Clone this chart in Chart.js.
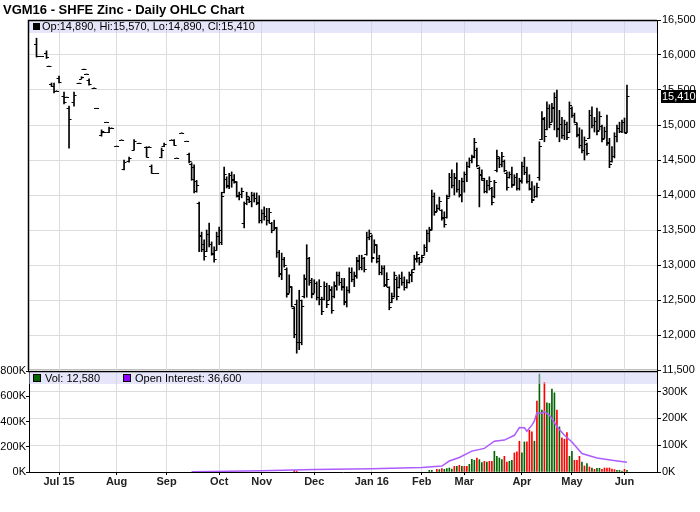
<!DOCTYPE html>
<html>
<head>
<meta charset="utf-8">
<title>VGM16 - SHFE Zinc - Daily OHLC Chart</title>
<script src="https://cdn.jsdelivr.net/npm/chart.js@4.4.0/dist/chart.umd.min.js"></script>
<style>
    html, body { margin: 0; padding: 0; background: #fff; }
    #wrap { position: relative; width: 700px; height: 512px; }
    #wrap canvas { position: absolute; left: 0; top: 0; }
</style>
</head>
<body>
<div id="wrap">
    <canvas id="volChart" width="700" height="512"></canvas>
    <canvas id="priceChart" width="700" height="512"></canvas>
</div>
<script>
// month gridlines (bar index of first trading day) and their labels
const monthStarts = [9, 32, 52, 73, 90, 111, 134, 154, 171, 194, 214, 235];
const monthLabels = ['Jul 15', 'Aug', 'Sep', 'Oct', 'Nov', 'Dec', 'Jan 16', 'Feb', 'Mar', 'Apr', 'May', 'Jun'];

// daily OHLC, one entry per trading day (null = no trade)
const highs = [
    16240, null, 15980, null, 16060, 15840, 15600, 15600, 15490, 15700,
    null, 15470, 15400, 15270, null, 15470, null, 15600, 15690, 15800,
    15730, 15660, null, 15530, 15240, null, 14930, 14900, 15040, 14970,
    14960, null, 14700, null, 14790, 14500, null, 14540, null, 14790,
    null, 14740, null, null, 14690, 14690, 14430, null, 14310, null,
    14670, 14740, null, null, 14790, 14790, 14530, null, 14890, null,
    14770, 14600, 14460, 14430, 14210, 13900, 13470, 13360, 13500, 13600,
    13330, 13260, 13470, 13540, 14040, 14400, 14260, 14310, 14330, 14290,
    14190, 14040, 14100, 13900, 14040, 13970, 14040, 14030, 14030, 13990,
    13790, 13830, 13810, 13810, 13610, 13640, 13540, 13210, 13170, 13110,
    12960, 12860, 12690, 12400, 12500, 12640, 12500, 12860, 13290, 13110,
    12810, 12790, 12760, 12790, 12540, 12760, 12740, 12710, 12690, 12760,
    12900, 12900, 12810, 12810, 12690, 12960, 12960, 12900, 13110, 13140,
    13140, 13110, 13470, 13500, 13430, 13360, 13290, 13140, 12990, 12990,
    12890, 12690, 12600, 12900, 12830, 12860, 12900, 12830, 12790, 12900,
    12930, 13140, 13190, 13110, 13140, 13290, 13500, 13540, 14070, 14030,
    13860, 13970, 13790, 13760, 14000, 14310, 14360, 14310, 14460, 14210,
    14240, 14330, 14470, 14530, 14570, 14810, 14670, 14400, 14360, 14240,
    14210, 14260, 14110, 14210, 14640, 14540, 14610, 14500, 14330, 14330,
    14400, 14290, 14310, 14240, 14470, 14540, 14400, 14290, 14190, 14130,
    14170, 14760, 15190, 15110, 15330, 15290, 15310, 15460, 15500, 15210,
    15110, 15070, 15040, 15330, 15260, 15170, 15030, 14960, 14930, 14830,
    14740, 15210, 15260, 15110, 15240, 15190, 15000, 14970, 15140, 14810,
    14690, 14890, 15000, 15040, 15070, 15100, 15570
];
const lows = [
    15970, null, 15980, null, 15950, 15840, 15550, 15460, 15490, 15600,
    null, 15300, 15400, 14670, null, 15270, null, 15600, 15660, 15800,
    15730, 15570, null, 15530, 15240, null, 14840, 14900, 15040, 14890,
    14960, null, 14700, null, 14790, 14360, null, 14470, null, 14640,
    null, 14740, null, null, 14540, 14690, 14310, null, 14310, null,
    14530, 14690, null, null, 14790, 14710, 14530, null, 14890, null,
    14770, 14460, 14210, 14030, 14040, 13190, 13190, 13070, 13190, 13260,
    13140, 13040, 13210, 13290, 13290, 14030, 14100, 14090, 14110, 14170,
    13970, 13930, 13960, 13530, 13860, 13890, 13830, 13900, 13860, 13600,
    13600, 13640, 13570, 13600, 13460, 13500, 13110, 12830, 12790, 12970,
    12540, 12600, 12400, 11960, 11740, 11790, 11860, 12530, 12540, 12710,
    12530, 12600, 12500, 12430, 12290, 12500, 12390, 12500, 12310, 12530,
    12640, 12710, 12640, 12430, 12400, 12600, 12760, 12690, 12810, 12930,
    12930, 12900, 13140, 13360, 13040, 13170, 13030, 12860, 12860, 12690,
    12690, 12360, 12460, 12540, 12500, 12670, 12710, 12640, 12670, 12740,
    12760, 12930, 13040, 13000, 13040, 13140, 13190, 13330, 13500, 13710,
    13760, 13790, 13640, 13540, 13670, 13970, 14100, 14000, 14040, 13970,
    13900, 14040, 14190, 14390, 14460, 14530, 14400, 13830, 14210, 14030,
    14030, 14070, 13860, 13960, 14330, 14390, 14400, 14330, 14070, 14240,
    14110, 14140, 14070, 14070, 14170, 14290, 14170, 14070, 13890, 13960,
    13970, 14210, 14790, 14760, 14930, 14960, 15040, 14930, 14830, 14760,
    14810, 14790, 14790, 14890, 15110, 15030, 14830, 14670, 14600, 14500,
    14570, 14810, 14960, 14900, 14860, 14930, 14760, 14810, 14710, 14390,
    14470, 14530, 14760, 14890, 14890, 14890, 14890
];
const opens = [
    16160, null, 15980, null, 16030, 15840, 15590, 15560, 15490, 15670,
    null, 15420, 15400, 15240, null, 15330, null, 15600, 15660, 15800,
    15730, 15640, null, 15530, 15240, null, 14860, 14900, 15040, 14900,
    14960, null, 14700, null, 14790, 14370, null, 14480, null, 14650,
    null, 14740, null, null, 14680, 14690, 14420, null, 14310, null,
    14540, 14700, null, null, 14790, 14780, 14530, null, 14890, null,
    14770, 14590, 14450, 14400, 14200, 13880, 13420, 13300, 13200, 13450,
    13300, 13150, 13220, 13420, 13330, 14050, 14230, 14130, 14280, 14230,
    14180, 13980, 14020, 13600, 13890, 13950, 13920, 14000, 13960, 13900,
    13640, 13750, 13700, 13640, 13600, 13500, 13530, 13180, 12880, 13080,
    12940, 12600, 12680, 12380, 12450, 11900, 11900, 12560, 12800, 13100,
    12780, 12600, 12740, 12550, 12520, 12520, 12700, 12500, 12640, 12560,
    12700, 12860, 12760, 12700, 12470, 12640, 12900, 12800, 12850, 13060,
    12970, 13100, 13160, 13400, 13420, 13120, 13280, 13100, 12900, 12960,
    12720, 12680, 12470, 12560, 12800, 12680, 12820, 12760, 12690, 12760,
    12860, 12940, 13080, 13100, 13050, 13140, 13260, 13460, 13520, 13990,
    13770, 13820, 13780, 13680, 13680, 13990, 14260, 14150, 14250, 14080,
    14000, 14200, 14300, 14420, 14500, 14560, 14650, 14380, 14300, 14220,
    14060, 14150, 14100, 13980, 14360, 14530, 14450, 14480, 14320, 14250,
    14300, 14160, 14250, 14100, 14200, 14420, 14330, 14200, 14090, 13950,
    13990, 14250, 14800, 15080, 14950, 15240, 15050, 15250, 15400, 14950,
    15020, 14860, 15010, 14900, 15250, 15150, 15020, 14870, 14720, 14640,
    14730, 14820, 15150, 15000, 15060, 14930, 14990, 14810, 14920, 14760,
    14480, 14560, 14840, 14960, 14920, 15050, 14890
];
const closes = [
    15980, null, 15980, null, 15970, 15840, 15560, 15490, 15490, 15620,
    null, 15330, 15400, 15090, null, 15430, null, 15600, 15690, 15800,
    15730, 15580, null, 15530, 15240, null, 14910, 14900, 15040, 14960,
    14960, null, 14700, null, 14790, 14470, null, 14530, null, 14770,
    null, 14740, null, null, 14550, 14690, 14320, null, 14310, null,
    14650, 14730, null, null, 14790, 14720, 14530, null, 14890, null,
    14770, 14480, 14230, 14060, 14150, 13430, 13230, 13130, 13450, 13300,
    13170, 13080, 13420, 13500, 13980, 14300, 14140, 14280, 14220, 14200,
    14000, 14010, 14060, 13880, 13990, 13920, 14000, 13960, 13880, 13650,
    13750, 13700, 13640, 13760, 13500, 13540, 13180, 12870, 13080, 13000,
    12580, 12700, 12420, 12020, 11900, 12500, 12420, 12820, 13100, 12760,
    12580, 12740, 12540, 12700, 12340, 12700, 12450, 12660, 12360, 12710,
    12860, 12760, 12690, 12480, 12640, 12900, 12800, 12860, 13070, 12970,
    13100, 12950, 13400, 13460, 13100, 13300, 13060, 12900, 12960, 12730,
    12800, 12400, 12530, 12860, 12560, 12820, 12760, 12680, 12760, 12870,
    12900, 13100, 13160, 13040, 13120, 13260, 13460, 13500, 13990, 13760,
    13820, 13920, 13670, 13580, 13960, 14260, 14140, 14240, 14080, 14020,
    14200, 14300, 14420, 14500, 14540, 14760, 14430, 14290, 14240, 14060,
    14150, 14200, 13900, 14180, 14560, 14440, 14560, 14360, 14120, 14300,
    14150, 14250, 14100, 14210, 14420, 14330, 14200, 14100, 13930, 13990,
    14110, 14700, 15100, 14840, 15250, 15020, 15260, 15400, 14960, 15020,
    14860, 15020, 14830, 15280, 15150, 15050, 14860, 14720, 14650, 14780,
    14600, 15150, 15000, 15060, 14910, 15130, 14800, 14920, 14750, 14440,
    14560, 14840, 14960, 14920, 15040, 14900, 15410
];

// volume (lots) for the days where a bar is visible, 1 = green, 0 = red
const volIdx = [103, 104, 157, 158, 160, 161, 162, 163, 164, 165, 166, 167, 168, 169, 170, 171, 172, 173, 174, 175,
    176, 177, 178, 179, 180, 181, 182, 183, 184, 185, 186, 187, 188, 189, 190, 191, 192, 193, 194, 195,
    196, 197, 198, 199, 200, 201, 202, 203, 204, 205, 206, 207, 208, 209, 210, 211, 212, 213, 214, 215,
    216, 217, 218, 219, 220, 221, 222, 223, 224, 225, 226, 227, 228, 229, 230, 231, 232, 233, 234, 235, 236];
const volVal = [12000, 8000, 13000, 13000, 21000, 19000, 27000, 21000, 27000, 32000, 24000, 45000, 45000, 53000, 45000, 45000, 45000, 61000, 101000, 93000,
    111000, 98000, 74000, 85000, 79000, 85000, 85000, 164000, 124000, 111000, 98000, 124000, 79000, 85000, 93000, 151000, 159000, 244000, 151000, 238000,
    238000, 331000, 318000, 244000, 561000, 776000, 490000, 710000, 548000, 543000, 657000, 627000, 490000, 357000, 270000, 260000, 313000, 124000, 164000, 93000,
    93000, 124000, 79000, 48000, 66000, 40000, 32000, 21000, 29000, 29000, 21000, 32000, 32000, 32000, 24000, 19000, 13000, 13000, 8000, 21000, 12580];
const volUp = [0, 0, 1, 1, 0, 1, 0, 1, 1, 1, 1, 0, 1, 0, 1, 0, 0, 1, 1, 1,
    0, 1, 1, 0, 1, 0, 0, 1, 1, 1, 1, 0, 0, 1, 1, 0, 0, 0, 1, 1,
    0, 0, 0, 1, 0, 1, 1, 0, 1, 1, 1, 1, 0, 1, 0, 0, 0, 1, 1, 0,
    0, 0, 1, 0, 1, 0, 1, 0, 1, 1, 0, 0, 0, 0, 0, 0, 1, 1, 1, 0, 1];

// open interest, read at the turning points of the line
const oiIdx = [62, 90, 111, 134, 154, 162, 165, 169, 174, 179, 183, 187, 191, 193, 195, 196, 198, 199, 200, 202,
    203, 205, 206, 208, 211, 214, 218, 224, 230, 236];
const oiVal = [500, 5000, 9000, 12000, 17000, 22000, 41000, 54000, 78000, 88000, 115000, 119000, 137000, 166000, 165000, 152000, 175000, 191000, 221000, 219000,
    225000, 212000, 200000, 169000, 137000, 112000, 69000, 52000, 44000, 36600];

const priceTicks = [11500, 12000, 12500, 13000, 13500, 14000, 14500, 15000, 15500, 16000, 16500];
const volTicks = [0, 200000, 400000, 600000, 800000];
const oiTicks = [0, 100000, 200000, 300000];

// shared look
const FONT = '"Liberation Sans", Arial, sans-serif';
const gridColor = '#dcdcdc';
const bandColor = 'rgba(205, 205, 245, 0.5)';
const xMin = -3, xMax = 248;
const last = closes.length - 1;

Chart.defaults.font.family = FONT;
Chart.defaults.font.size = 11;
Chart.defaults.color = '#000';

const fmt = v => v.toLocaleString('en-US');

const monthAxis = {
    type: 'linear',
    min: xMin,
    max: xMax,
    offset: false,
    afterBuildTicks: scale => { scale.ticks = monthStarts.map(v => ({ value: v })); }
};

// price bars as floating high-low bars
const priceBars = [];
highs.forEach((h, i) => {
    if (h !== null) priceBars.push({ x: i, y: [lows[i], h] });
});

// open / close ticks, title, header band and last price box
const pricePanel = {
    id: 'pricePanel',
    beforeDatasetsDraw(chart) {
        const { ctx, chartArea: a } = chart;
        ctx.save();
        ctx.fillStyle = bandColor;
        ctx.fillRect(a.left, a.top, a.right - a.left, 13);
        ctx.restore();
    },
    afterDatasetsDraw(chart) {
        const { ctx, scales: { x, y } } = chart;
        ctx.save();
        ctx.strokeStyle = '#000';
        ctx.lineWidth = 1;
        ctx.beginPath();
        opens.forEach((o, i) => {
            if (o === null) return;
            const px = x.getPixelForValue(i);
            const yo = Math.round(y.getPixelForValue(o)) + 0.5;
            const yc = Math.round(y.getPixelForValue(closes[i])) + 0.5;
            ctx.moveTo(px - 2.5, yo);
            ctx.lineTo(px, yo);
            ctx.moveTo(px, yc);
            ctx.lineTo(px + 2.5, yc);
        });
        ctx.stroke();
        ctx.restore();
    },
    afterDraw(chart) {
        const { ctx, chartArea: a, scales: { y } } = chart;
        ctx.save();
        // frame
        ctx.strokeStyle = '#000';
        ctx.lineWidth = 1.5;
        ctx.beginPath();
        ctx.moveTo(a.left - 0.5, a.bottom);
        ctx.lineTo(a.left - 0.5, a.top + 0.5);
        ctx.lineTo(a.right, a.top + 0.5);
        ctx.stroke();

        // title
        ctx.fillStyle = '#000';
        ctx.textBaseline = 'middle';
        ctx.font = 'bold 13px ' + FONT;
        ctx.fillText('VGM16 - SHFE Zinc - Daily OHLC Chart', 3, 10);

        // header legend
        ctx.fillRect(33, 23, 7, 7);
        ctx.font = '11px ' + FONT;
        ctx.fillText('Op:' + fmt(opens[last]) + ', Hi:' + fmt(highs[last]) + ', Lo:' + fmt(lows[last]) + ', Cl:' + fmt(closes[last]), 42, 27);

        // last price marker
        const yc = Math.round(y.getPixelForValue(closes[last]));
        ctx.fillRect(a.right + 4, yc - 6, 35, 13);
        ctx.fillStyle = '#fff';
        ctx.fillText(fmt(closes[last]), a.right + 5, yc + 1);
        ctx.restore();
    }
};

new Chart(document.getElementById('priceChart'), {
    type: 'bar',
    data: {
        datasets: [{
            data: priceBars,
            backgroundColor: '#000',
            barThickness: 1
        }]
    },
    options: {
        responsive: false,
        animation: false,
        events: [],
        devicePixelRatio: 1,
        layout: { padding: { left: 29, top: 20, right: 0, bottom: 142 } },
        plugins: { legend: { display: false }, tooltip: { enabled: false } },
        scales: {
            x: Object.assign({}, monthAxis, {
                afterFit: scale => { scale.height = 0; },
                ticks: { display: false },
                grid: { color: gridColor, drawTicks: false, offset: false },
                border: { display: false }
            }),
            y: {
                position: 'right',
                min: 11500,
                max: 16500,
                afterBuildTicks: scale => { scale.ticks = priceTicks.map(v => ({ value: v })); },
                afterFit: scale => { scale.width = 43; },
                ticks: { padding: 1, callback: v => fmt(v) },
                grid: { color: gridColor, tickColor: '#000', tickLength: 4 },
                border: { color: '#000' }
            }
        }
    },
    plugins: [pricePanel]
});

// volume panel header band, legend and divider
const volPanel = {
    id: 'volPanel',
    afterDatasetsDraw(chart) {
        const { ctx, chartArea: a } = chart;
        ctx.save();
        ctx.fillStyle = bandColor;
        ctx.fillRect(a.left, a.top, a.right - a.left, 13);
        ctx.restore();
    },
    afterDraw(chart) {
        const { ctx, chartArea: a } = chart;
        ctx.save();
        ctx.strokeStyle = '#000';
        ctx.lineWidth = 2.5;
        ctx.beginPath();
        ctx.moveTo(a.left - 1, a.top);
        ctx.lineTo(a.right, a.top);
        ctx.stroke();

        ctx.lineWidth = 1;
        ctx.fillStyle = '#006400';
        ctx.fillRect(34, 375, 6, 6);
        ctx.strokeRect(33.5, 374.5, 7, 7);
        ctx.fillStyle = '#8f00ff';
        ctx.fillRect(124, 375, 6, 6);
        ctx.strokeRect(123.5, 374.5, 7, 7);

        ctx.fillStyle = '#000';
        ctx.textBaseline = 'middle';
        ctx.font = '11px ' + FONT;
        ctx.fillText('Vol: ' + fmt(volVal[volVal.length - 1]), 45, 379);
        ctx.fillText('Open Interest: ' + fmt(oiVal[oiVal.length - 1]), 135, 379);
        ctx.restore();
    }
};

new Chart(document.getElementById('volChart'), {
    type: 'bar',
    data: {
        datasets: [{
            type: 'line',
            order: 0,
            yAxisID: 'yOI',
            data: oiIdx.map((x, k) => ({ x: x, y: oiVal[k] })),
            borderColor: '#ad5cff',
            borderWidth: 1.5,
            pointRadius: 0,
            tension: 0
        }, {
            type: 'bar',
            order: 1,
            yAxisID: 'yVol',
            data: volIdx.map((x, k) => ({ x: x, y: volVal[k] })),
            backgroundColor: volUp.map(u => u ? '#006400' : '#ff0000'),
            barThickness: 1
        }]
    },
    options: {
        responsive: false,
        animation: false,
        events: [],
        devicePixelRatio: 1,
        layout: { padding: { left: 0, top: 371, right: 0, bottom: 0 } },
        plugins: { legend: { display: false }, tooltip: { enabled: false } },
        scales: {
            x: Object.assign({}, monthAxis, {
                afterFit: scale => { scale.height = 40; },
                ticks: {
                    autoSkip: false,
                    maxRotation: 0,
                    padding: 0,
                    font: { weight: 'bold' },
                    color: '#222',
                    callback: (v, i) => monthLabels[i]
                },
                grid: { color: gridColor, tickColor: '#000', tickLength: 3, offset: false },
                border: { color: '#000' }
            }),
            yVol: {
                position: 'left',
                min: 0,
                max: 800000,
                afterBuildTicks: scale => { scale.ticks = volTicks.map(v => ({ value: v })); },
                afterFit: scale => { scale.width = 29; },
                ticks: { padding: 0, callback: v => (v / 1000) + 'K' },
                grid: { drawOnChartArea: false, tickColor: '#000', tickLength: 3 },
                border: { color: '#000' }
            },
            yOI: {
                position: 'right',
                min: 0,
                max: 377000,
                afterBuildTicks: scale => { scale.ticks = oiTicks.map(v => ({ value: v })); },
                afterFit: scale => { scale.width = 43; },
                ticks: { padding: 1, callback: v => (v / 1000) + 'K' },
                grid: { color: gridColor, tickColor: '#000', tickLength: 4 },
                border: { color: '#000' }
            }
        }
    },
    plugins: [volPanel]
});
</script>
</body>
</html>
